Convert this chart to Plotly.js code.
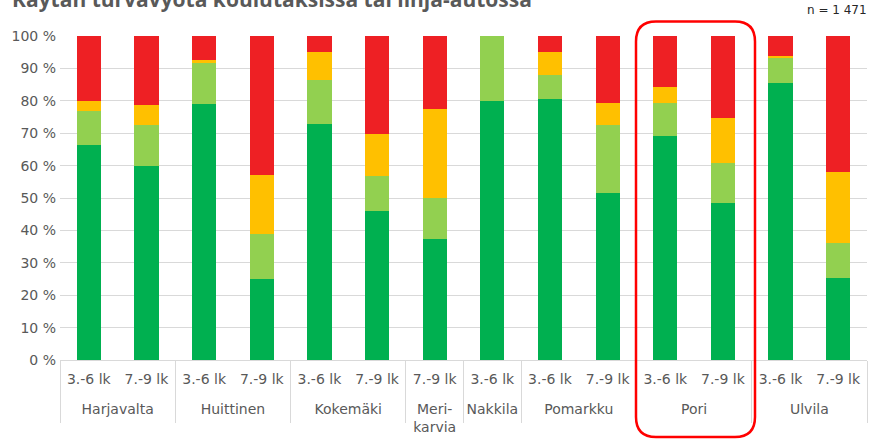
<!DOCTYPE html>
<html>
<head>
<meta charset="utf-8">
<script src="https://cdn.plot.ly/plotly-3.0.1.min.js"></script>
<style>html,body{margin:0;padding:0;background:#fff;}#chart{width:869px;height:440px;}</style>
</head>
<body>
<div id="chart"></div>
<script>
const groups = ["Harjavalta","Harjavalta","Huittinen","Huittinen","Kokemäki","Kokemäki","Meri-<br>karvia","Nakkila","Pomarkku","Pomarkku","Pori","Pori","Ulvila","Ulvila"];
const grades = ["3.-6 lk","7.-9 lk","3.-6 lk","7.-9 lk","3.-6 lk","7.-9 lk","7.-9 lk","3.-6 lk","3.-6 lk","7.-9 lk","3.-6 lk","7.-9 lk","3.-6 lk","7.-9 lk"];
const seriesNames = ["Aina","Usein","Joskus","En koskaan"];
const always = [66.3, 59.8, 79.0, 24.9, 72.8, 45.9, 37.3, 79.9, 80.5, 51.5, 69.1, 48.4, 85.6, 25.2];
const often = [10.5, 12.7, 12.7, 14.0, 13.6, 10.9, 12.6, 20.1, 7.4, 21.0, 10.2, 12.4, 7.6, 10.8];
const sometimes = [3.1, 6.2, 0.9, 18.1, 8.7, 12.9, 27.5, 0, 7.2, 6.8, 4.9, 13.9, 0.7, 22.0];
const never = [20.1, 21.3, 7.4, 43.0, 4.9, 30.3, 22.6, 0, 4.9, 20.7, 15.8, 25.3, 6.1, 42.0];
const colors = ["#00B050","#92D050","#FFC000","#EE2024"];
const titleText = "Käytän turvavyötä koulutaksissa tai linja-autossa";
const nText = "n = 1 471";

// unique category keys, labelled by grade (inner row)
const keys = groups.map((g, i) => g + "|" + grades[i]);

// group label positions and dividers (outer row), derived from the groups list
const groupNames = [], groupCenters = [], boundaries = [-0.5];
let start = 0;
for (let i = 1; i <= groups.length; i++) {
  if (i === groups.length || groups[i] !== groups[start]) {
    groupNames.push(groups[start]);
    groupCenters.push((start + i - 1) / 2);
    boundaries.push(i - 0.5);
    start = i;
  }
}

const values = [always, often, sometimes, never];
const traces = values.map((v, i) => ({
  type: "bar",
  name: seriesNames[i],
  x: keys,
  y: v,
  marker: {color: colors[i], line: {width: 0}},
  hoverinfo: "y+name"
}));
// invisible helper so the group-label axis is drawn
traces.push({
  type: "scatter", mode: "markers", xaxis: "x2", yaxis: "y",
  x: groupCenters, y: groupCenters.map(() => null),
  marker: {opacity: 0}, hoverinfo: "skip", showlegend: false
});

const tickFont = {family: "DejaVu Sans, sans-serif", size: 14, color: "#595959"};

// rounded highlight box around Pori (paper coords)
const W = 807, H = 324;
const bx0 = (636 - 60) / W, bx1 = (755 - 60) / W;
const by1 = (360 - 21.5) / H, by0 = (360 - 437) / H;
const rx = 20 / W, ry = 20 / H;
const boxPath = `M ${bx0 + rx} ${by1} L ${bx1 - rx} ${by1} Q ${bx1} ${by1} ${bx1} ${by1 - ry} ` +
  `L ${bx1} ${by0 + ry} Q ${bx1} ${by0} ${bx1 - rx} ${by0} L ${bx0 + rx} ${by0} ` +
  `Q ${bx0} ${by0} ${bx0} ${by0 + ry} L ${bx0} ${by1 - ry} Q ${bx0} ${by1} ${bx0 + rx} ${by1} Z`;

const layout = {
  width: 869, height: 440,
  margin: {l: 60, r: 2, t: 36, b: 80},
  paper_bgcolor: "#fff", plot_bgcolor: "#fff",
  barmode: "stack",
  bargap: 0.58,
  showlegend: false,
  font: {family: "DejaVu Sans, sans-serif", size: 14, color: "#595959"},
  title: {
    text: "<b>" + titleText + "</b>",
    x: 12 / 869, xanchor: "left", xref: "container",
    y: 1 - 7 / 440, yanchor: "bottom", yref: "container",
    font: {family: "Open Sans, sans-serif", size: 21, color: "#595959"}
  },
  xaxis: {
    type: "category",
    categoryorder: "array", categoryarray: keys,
    tickmode: "array", tickvals: keys, ticktext: grades,
    showgrid: false,
    showline: true, linecolor: "#d9d9d9", linewidth: 1,
    ticks: "",
    ticklabelstandoff: 6,
    tickfont: tickFont
  },
  xaxis2: {
    overlaying: "x", anchor: "y", side: "bottom",
    type: "linear", range: [-0.5, keys.length - 0.5],
    tickmode: "array", tickvals: groupCenters, ticktext: groupNames,
    showgrid: false, zeroline: false, showline: false,
    ticks: "",
    ticklabelstandoff: 39,
    tickfont: tickFont,
    minor: {tickmode: "array", tickvals: boundaries, ticks: "outside", ticklen: 62,
            tickcolor: "#d9d9d9", tickwidth: 1, showgrid: false}
  },
  yaxis: {
    range: [0, 100], dtick: 10, ticksuffix: " %",
    showgrid: true, gridcolor: "#d9d9d9", gridwidth: 1,
    zeroline: false, showline: false, ticks: "",
    ticklabelstandoff: 3,
    tickfont: tickFont
  },
  annotations: [{
    text: nText, xref: "paper", yref: "paper",
    x: 1, y: 1, xanchor: "right", yanchor: "bottom", yshift: 17, xshift: 2,
    showarrow: false,
    font: {family: "DejaVu Sans, sans-serif", size: 12, color: "#262626"}
  }],
  shapes: [{
    type: "path", xref: "paper", yref: "paper", path: boxPath,
    line: {color: "#FF0000", width: 2.5}, fillcolor: "rgba(0,0,0,0)"
  }]
};

Plotly.newPlot("chart", traces, layout, {displayModeBar: false, staticPlot: true});
</script>
</body>
</html>
